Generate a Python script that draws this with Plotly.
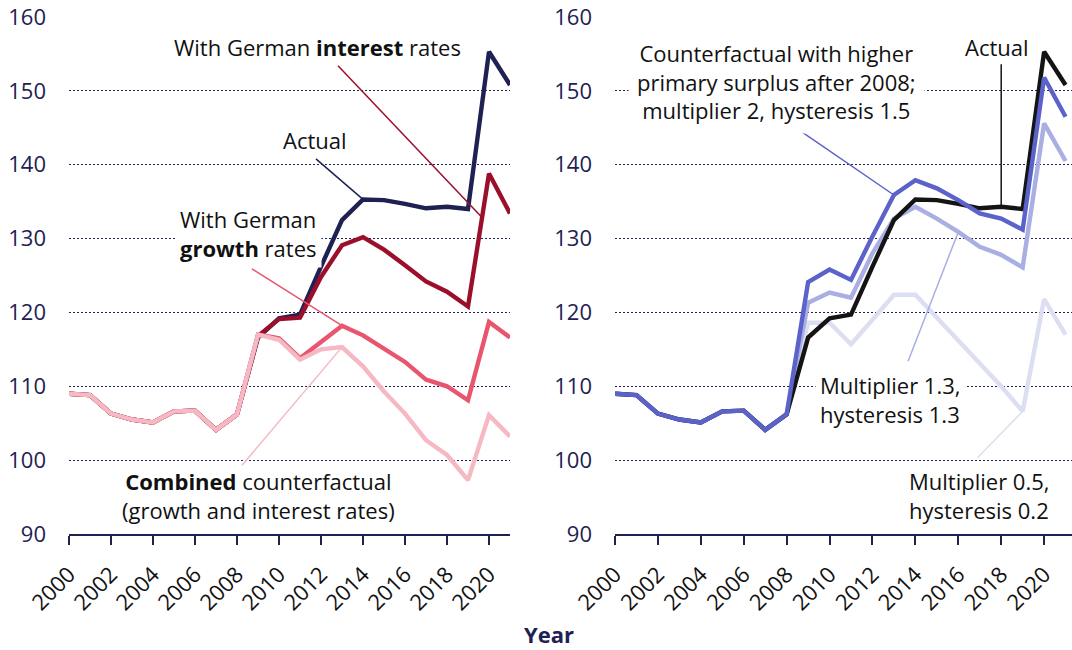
import plotly.graph_objects as go

years = list(range(2000, 2022))

# Left panel (debt ratio, % of GDP)
actual = [109.0, 108.8, 106.3, 105.5, 105.1, 106.6, 106.7, 104.1, 106.2, 116.6, 119.2,
          119.7, 126.2, 132.5, 135.3, 135.2, 134.7, 134.1, 134.3, 134.0, 155.3, 150.8]
german_interest = [109.0, 108.8, 106.3, 105.5, 105.1, 106.6, 106.7, 104.1, 106.2, 116.8, 119.1,
                   119.3, 124.8, 129.1, 130.2, 128.5, 126.4, 124.2, 122.8, 120.8, 138.8, 133.4]
german_growth = [109.0, 108.8, 106.3, 105.5, 105.1, 106.6, 106.7, 104.1, 106.2, 117.0, 116.5,
                 113.8, 116.0, 118.2, 116.9, 115.1, 113.3, 110.9, 110.0, 108.1, 118.7, 116.6]
combined = [109.0, 108.8, 106.3, 105.5, 105.1, 106.6, 106.7, 104.1, 106.2, 117.0, 116.3,
            113.6, 115.0, 115.3, 112.7, 109.3, 106.3, 102.7, 100.7, 97.3, 106.1, 103.2]

# Right panel
mult_2 = [109.0, 108.8, 106.3, 105.5, 105.1, 106.6, 106.7, 104.1, 106.2, 124.1, 125.8,
          124.4, 130.3, 135.9, 137.9, 136.8, 135.2, 133.4, 132.7, 131.2, 151.8, 146.5]
mult_13 = [109.0, 108.8, 106.3, 105.5, 105.1, 106.6, 106.7, 104.1, 106.2, 121.3, 122.7,
           122.0, 128.0, 132.7, 134.3, 132.7, 130.9, 128.9, 127.8, 126.1, 145.6, 140.5]
mult_05 = [109.0, 108.8, 106.3, 105.5, 105.1, 106.6, 106.7, 104.1, 106.2, 118.6, 118.6,
           115.7, 119.0, 122.4, 122.4, 119.3, 116.1, 112.9, 110.0, 106.6, 121.8, 117.0]

y_ticks = [90, 100, 110, 120, 130, 140, 150, 160]

NAVY = "#1e2152"
C_INT = "#9c0f2b"
C_GRO = "#e8556d"
C_COM = "#f6b9c3"
C_ACT2 = "#141414"
C_M2 = "#5b62c9"
C_M13 = "#a9aee3"
C_M05 = "#dcdef2"
FONT = "Open Sans"
FS = 22
LW = 4.4

fig = go.Figure()

def add(x, y, color, xa, ya):
    fig.add_trace(go.Scatter(x=x, y=y, mode="lines", line=dict(color=color, width=LW),
                             xaxis=xa, yaxis=ya, showlegend=False, hoverinfo="skip"))

# left: order bottom -> top
add(years, actual, NAVY, "x", "y")
add(years, german_interest, C_INT, "x", "y")
add(years, german_growth, C_GRO, "x", "y")
add(years, combined, C_COM, "x", "y")
# right
add(years, mult_05, C_M05, "x2", "y2")
add(years, mult_13, C_M13, "x2", "y2")
add(years, actual, C_ACT2, "x2", "y2")
add(years, mult_2, C_M2, "x2", "y2")

xcommon = dict(tickmode="linear", tick0=2000, dtick=2, tickangle=-45,
               ticks="outside", ticklen=9, tickwidth=2, tickcolor=NAVY,
               ticklabelstandoff=8,
               showline=True, linecolor=NAVY, linewidth=2, showgrid=False,
               zeroline=False, tickfont=dict(family=FONT, size=FS, color="#111111"))
ycommon = dict(range=[90, 160], tickvals=y_ticks, showgrid=True, gridcolor=NAVY,
               gridwidth=1, griddash="2px,2px", zeroline=False, showline=False,
               ticks="", ticklabelstandoff=22,
               tickfont=dict(family=FONT, size=FS, color=NAVY))

fig.update_layout(
    width=1072, height=650,
    margin=dict(l=69, r=0, t=17, b=116),
    paper_bgcolor="white", plot_bgcolor="white",
    font=dict(family=FONT, size=FS, color="#111111"),
    xaxis=dict(domain=[0, 441 / 1003], range=[2000, 2021], anchor="y", **xcommon),
    yaxis=dict(domain=[0, 1], anchor="x", **ycommon),
    xaxis2=dict(domain=[546 / 1003, 1], range=[2000, 2021.3], anchor="y2", **xcommon),
    yaxis2=dict(domain=[0, 1], anchor="x2", **ycommon),
)

def conn(xr, yr, x0, y0, x1, y1, color):
    fig.add_shape(type="line", xref=xr, yref=yr, x0=x0, y0=y0, x1=x1, y1=y1,
                  line=dict(color=color, width=1.5))

# connectors, left
conn("x", "y", 2012.81, 153.4, years[19] + 0.67,
     german_interest[19] + 0.67 * (german_interest[20] - german_interest[19]), C_INT)
conn("x", "y", 2011.76, 140.8, years[14], actual[14], NAVY)
conn("x", "y", 2008.71, 125.9, years[13], german_growth[13], C_GRO)
conn("x", "y", 2008.24, 99.3, years[13], combined[13], C_COM)
# connectors, right
conn("x2", "y2", 2008.62, 144.6, years[13], mult_2[13], C_M2)
conn("x2", "y2", years[18], 153.6, years[18], actual[18], C_ACT2)
conn("x2", "y2", 2013.66, 113.4, years[16], mult_13[16], C_M13)
conn("x2", "y2", 2016.88, 100.3, years[19], mult_05[19], C_M05)

def ann(xr, yr, x, y, text, xanchor="center", align="center", bg=None, pad=1):
    d = dict(xref=xr, yref=yr, x=x, y=y, text=text, showarrow=False,
             xanchor=xanchor, yanchor="middle", align=align,
             font=dict(family=FONT, size=FS, color="#111111"), borderpad=pad)
    if bg:
        d["bgcolor"] = bg
    fig.add_annotation(**d)

ann("x", "y", 2011.83, 155.94, "With German <b>interest</b> rates")
ann("x", "y", 2011.71, 143.35, "Actual")
ann("x", "y", 2005.05, 130.62, "With German<br><b>growth</b> rates", xanchor="left", align="left", bg="white", pad=4)
ann("x", "y", 2009.0, 95.15, "<b>Combined</b> counterfactual<br>(growth and interest rates)")

ann("x2", "y2", 2007.55, 151.2,
    "Counterfactual with higher<br>primary surplus after 2008;<br>multiplier 2, hysteresis 1.5",
    bg="white", pad=8)
ann("x2", "y2", 2017.81, 155.94, "Actual")
ann("x2", "y2", 2009.32, 108.15, "Multiplier 1.3,<br>hysteresis 1.3", xanchor="left", align="left", bg="white", pad=4)
ann("x2", "y2", 2013.61, 95.15, "Multiplier 0.5,<br>hysteresis 0.2", xanchor="left", align="left")

fig.add_annotation(xref="paper", yref="paper", x=480 / 1003, y=-100 / 517,
                   text="<b>Year</b>", showarrow=False, xanchor="center", yanchor="middle",
                   font=dict(family=FONT, size=FS, color=NAVY))

fig.write_html("out.html", config={"displayModeBar": False},
               post_script="document.body.style.margin='0px';")
